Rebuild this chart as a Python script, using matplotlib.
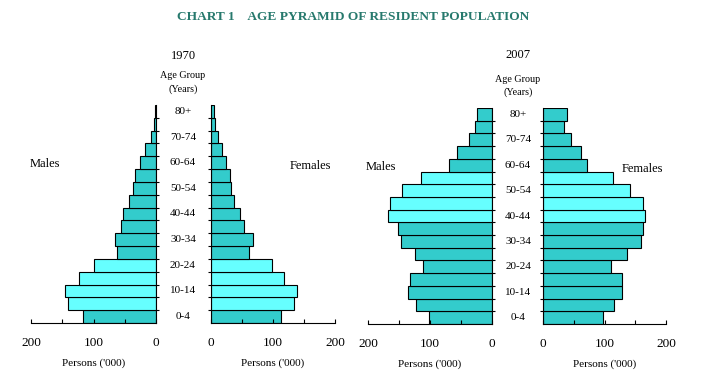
import numpy as np
import matplotlib.pyplot as plt
from matplotlib.transforms import blended_transform_factory

plt.rcParams['font.family'] = ['Liberation Serif', 'DejaVu Serif']

# age groups from youngest (bottom) to oldest (top)
age_groups = ['0-4', '5-9', '10-14', '15-19', '20-24', '25-29', '30-34', '35-39',
              '40-44', '45-49', '50-54', '55-59', '60-64', '65-69', '70-74', '75-79', '80+']

# persons ('000), same order as age_groups
males_1970 = [117, 141, 146, 123, 99, 62, 66, 56, 53, 43, 37, 34, 26, 17, 7.5, 4, 2]
females_1970 = [113, 134, 138, 118, 98, 62, 67, 54, 46, 37, 33, 31, 24, 17, 11, 7, 5]
males_2007 = [101, 122, 135, 133, 112, 124, 146, 152, 168, 164, 145, 114, 70, 56, 37, 27, 25]
females_2007 = [97, 116, 128, 129, 111, 137, 160, 163, 166, 162, 142, 114, 71, 62, 45, 34, 39]

# which groups are highlighted (lighter colour)
highlight_1970 = ['5-9', '10-14', '15-19', '20-24']
highlight_2007 = ['40-44', '45-49', '50-54', '55-59']

teal = '#33CCCC'
light = '#66FFFF'
title_col = '#27796D'

W, H = 707, 381
fig = plt.figure(figsize=(W / 100, H / 100), dpi=100)


def add_ax(x0, x1, y0, y1):
    return fig.add_axes([x0 / W, 1 - y1 / H, (x1 - x0) / W, (y1 - y0) / H])


def draw_side(ax, values, highlight, male):
    y = np.arange(len(age_groups))
    cols = [light if a in highlight else teal for a in age_groups]
    ax.barh(y, values, height=1.0, color=cols, edgecolor='black', linewidth=0.8)
    ax.set_ylim(-0.5, len(age_groups) - 0.5)
    if male:
        ax.set_xlim(200, 0)
        ax.spines['left'].set_visible(False)
        ax.yaxis.tick_right()
    else:
        ax.set_xlim(0, 200)
        ax.spines['right'].set_visible(False)
    ax.spines['top'].set_visible(False)
    ax.set_xticks([0, 100, 200])
    ax.set_xticks([50, 150], minor=True)
    ax.tick_params(axis='x', which='both', direction='in', length=3, width=0.8,
                   labelsize=9.5, pad=10)
    ax.set_yticks(np.arange(len(age_groups) - 1) + 0.5)
    ax.set_yticklabels([])
    ax.tick_params(axis='y', direction='out', length=2.5, width=0.8)
    ax.set_xlabel("Persons ('000)", fontsize=8, labelpad=7)
    ax.set_facecolor('none')


panels = [
    ('1970', males_1970, females_1970, highlight_1970, (31, 156), (211, 335), (105, 323), 183),
    ('2007', males_2007, females_2007, highlight_2007, (368, 492), (543, 666), (108, 324), 518),
]

for year, m, f, hl, mx, fx, yy, cx in panels:
    axm = add_ax(mx[0], mx[1], yy[0], yy[1])
    axf = add_ax(fx[0], fx[1], yy[0], yy[1])
    draw_side(axm, m, hl, True)
    draw_side(axf, f, hl, False)
    tr = blended_transform_factory(fig.transFigure, axm.transData)
    for i, a in enumerate(age_groups):
        if i % 2 == 0:
            axm.text(cx / W, i, a, transform=tr, ha='center', va='center',
                     fontsize=8, clip_on=False)

fig.text(183 / W, 1 - 56 / H, '1970', ha='center', va='center', fontsize=9)
fig.text(183 / W, 1 - 75 / H, 'Age Group', ha='center', va='center', fontsize=7.3)
fig.text(183 / W, 1 - 89 / H, '(Years)', ha='center', va='center', fontsize=7.3)
fig.text(518 / W, 1 - 55 / H, '2007', ha='center', va='center', fontsize=9)
fig.text(518 / W, 1 - 79 / H, 'Age Group', ha='center', va='center', fontsize=7.3)
fig.text(518 / W, 1 - 92 / H, '(Years)', ha='center', va='center', fontsize=7.3)

fig.text(45 / W, 1 - 164 / H, 'Males', ha='center', va='center', fontsize=9)
fig.text(310 / W, 1 - 166 / H, 'Females', ha='center', va='center', fontsize=9)
fig.text(381 / W, 1 - 167 / H, 'Males', ha='center', va='center', fontsize=9)
fig.text(642 / W, 1 - 169 / H, 'Females', ha='center', va='center', fontsize=9)

fig.text(353 / W, 1 - 17 / H, 'CHART 1    AGE PYRAMID OF RESIDENT POPULATION',
         ha='center', va='center', fontsize=9.6, fontweight='bold', color=title_col)

fig.savefig('out.png', dpi=100)
